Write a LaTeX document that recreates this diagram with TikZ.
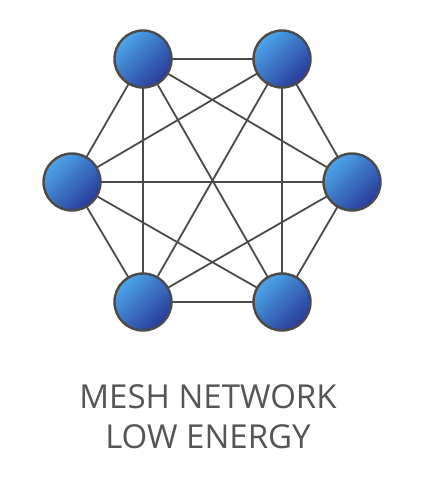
\documentclass[tikz,border=0pt]{standalone}
\usepackage{fontspec}
\setmainfont{Open Sans}
\usetikzlibrary{backgrounds}
\definecolor{edgegray}{HTML}{4A4A4A}
\definecolor{txtgray}{HTML}{555555}
\definecolor{bluelight}{HTML}{4BA6EA}
\definecolor{bluedark}{HTML}{2A3A98}
\begin{document}
\begin{tikzpicture}[x=1pt,y=-1pt,
  meshnode/.style={circle,minimum size=57pt,inner sep=0pt,draw=edgegray,line width=2.4pt,
    top color=bluelight,bottom color=bluedark,shading angle=45},
  meshedge/.style={draw=edgegray,line width=1.8pt},
  caption/.style={font=\fontsize{33}{40}\selectfont,text=txtgray,align=center}]
\useasboundingbox (0,0) rectangle (424,494);
\node[meshnode] (tl) at (143,59) {};
\node[meshnode] (tr) at (282,59) {};
\node[meshnode] (l) at (72,182) {};
\node[meshnode] (r) at (352,182) {};
\node[meshnode] (bl) at (143,302) {};
\node[meshnode] (br) at (282,302) {};
\begin{scope}[on background layer]
\foreach \a/\b in {tl/tr,tl/l,tl/r,tl/bl,tl/br,tr/l,tr/r,tr/bl,tr/br,l/r,l/bl,l/br,r/bl,r/br,bl/br}
  \path[meshedge] (\a.center) -- (\b.center);
\end{scope}
\node[caption] (cap) at (208,416.5) {MESH NETWORK\\LOW ENERGY};
\end{tikzpicture}
\end{document}
